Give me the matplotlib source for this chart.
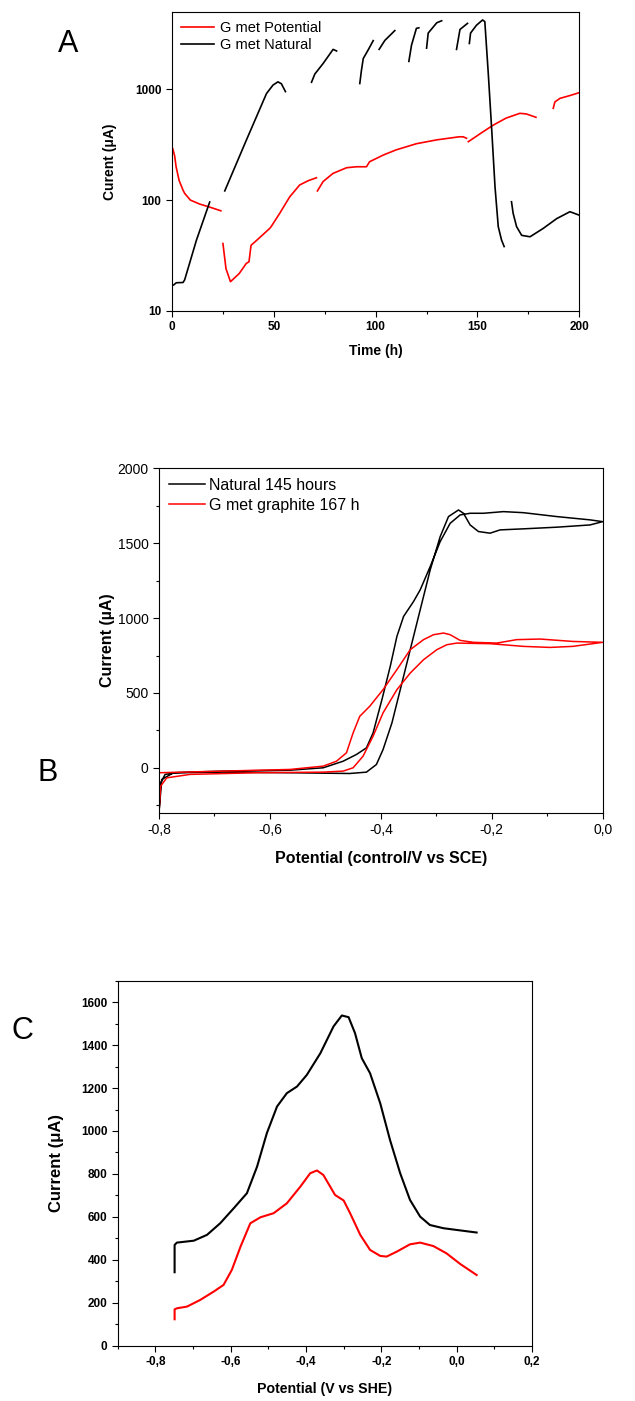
import numpy as np
import matplotlib
matplotlib.use("Agg")
import matplotlib.pyplot as plt
from matplotlib import font_manager
from matplotlib.ticker import FixedLocator, MultipleLocator, FuncFormatter, NullLocator

plt.rcParams['font.family'] = ['Liberation Sans', 'DejaVu Sans']

# narrow face for panel C, if there is one
try:
    font_manager.findfont("Liberation Sans Narrow", fallback_to_default=False)
    NARROW = ["Liberation Sans Narrow", "Liberation Sans", "DejaVu Sans"]
    narrow_scale = 1.0
except ValueError:
    NARROW = ["Liberation Sans", "DejaVu Sans"]
    narrow_scale = 0.85

# ===============================
# A: current vs time (log)
# ===============================
pot_t = [
    [0, 0, 0.4, 1.3, 2.0, 3.5, 5.4, 6.2, 9.0, 13.6, 18.0, 24.0],
    [25.0, 26.5, 28.7, 33.0, 36.5, 37.8, 38.8, 41.4, 48.0, 48.8, 52.9, 57.8, 62.7, 67.0, 70.9],
    [71.4, 74.2, 79.0, 85.7, 90.6, 95.5, 97.0, 103.7, 110.0, 120.0, 130.0, 141.0, 143.0, 144.6],
    [145.5, 152.8, 157.7, 164.0, 170.8, 174.0, 178.7],
    [187.2, 188.0, 190.5, 195.4, 200.0],
]
pot_i = [
    [10, 300, 290, 250, 200, 150, 123, 115, 100, 92, 87, 80],
    [40.5, 24, 18.3, 21.7, 26.8, 27.7, 39, 43, 55.5, 58, 76, 107, 137, 150, 159],
    [121, 147, 174, 196, 200, 200, 222, 255, 284, 323, 350, 373, 373, 362],
    [337, 415, 475, 550, 608, 600, 560],
    [675, 770, 830, 880, 935],
]
nat_t = [
    [0.8, 2.1, 5.4, 6.2, 12.0, 18.5],
    [25.9, 36.5, 46.4, 49.6, 52.0, 53.7, 55.7],
    [68.5, 70.1, 74.2, 79.1, 80.8],
    [92.2, 93.0, 93.9, 96.3, 98.8],
    [101.7, 104.5, 109.4],
    [116.3, 117.6, 120.0, 121.2],
    [125.0, 125.8, 130.0, 132.4],
    [139.7, 141.4, 145.1],
    [146.0, 146.6, 149.5, 152.5, 153.6, 155.3, 157.0, 158.6, 160.2, 161.8, 163.1],
    [166.7, 167.5, 169.2, 171.7, 175.8, 182.3, 188.9, 195.4, 200.0],
]
nat_i = [
    [17.1, 17.9, 18, 19, 43.5, 96],
    [121, 348, 918, 1095, 1170, 1125, 955],
    [1160, 1375, 1715, 2300, 2225],
    [1130, 1480, 1900, 2270, 2760],
    [2300, 2770, 3400],
    [1790, 2510, 3560, 3600],
    [2360, 3230, 4000, 4170],
    [2300, 3480, 3950],
    [2600, 3230, 3800, 4240, 4100, 1390, 428, 132, 57.5, 43.6, 38],
    [96.6, 76, 57.5, 48, 46.6, 55.5, 68, 78.5, 73],
]

# ===============================
# B: cyclic voltammetry loops
# ===============================
nat_cv_e = [-0.8, -0.797, -0.789, -0.768, -0.684, -0.564, -0.456, -0.426, -0.408, -0.396,
            -0.380, -0.365, -0.347, -0.329, -0.311, -0.293, -0.278, -0.260, -0.251, -0.239,
            -0.224, -0.203, -0.185, -0.143, -0.083, -0.023, 0.0,
            -0.023, -0.083, -0.143, -0.179, -0.215, -0.239, -0.257, -0.275, -0.293, -0.311,
            -0.329, -0.341, -0.359, -0.371, -0.383, -0.398, -0.414, -0.426, -0.444, -0.468,
            -0.504, -0.564, -0.684, -0.774, -0.795, -0.8]
nat_cv_i = [-296, -100, -44, -33, -29, -33, -38, -29, 22, 122,
            300, 522, 789, 1056, 1322, 1544, 1678, 1722, 1700, 1622,
            1578, 1567, 1589, 1596, 1607, 1622, 1644,
            1656, 1678, 1704, 1711, 1700, 1700, 1689, 1633, 1511, 1344,
            1189, 1111, 1011, 878, 678, 456, 233, 133, 89, 44,
            0, -16, -22, -33, -78, -296]
gra_cv_e = [-0.8, -0.797, -0.786, -0.744, -0.624, -0.504, -0.468, -0.450, -0.432, -0.414,
            -0.396, -0.371, -0.347, -0.323, -0.299, -0.281, -0.263, -0.203, -0.143, -0.095,
            -0.054, 0.0,
            -0.054, -0.113, -0.155, -0.191, -0.233, -0.257, -0.275, -0.287, -0.305, -0.323,
            -0.347, -0.371, -0.396, -0.420, -0.438, -0.450, -0.462, -0.480, -0.504, -0.564,
            -0.684, -0.8]
gra_cv_i = [-296, -122, -67, -44, -33, -29, -22, 0, 78, 211,
            367, 522, 633, 722, 789, 822, 833, 829, 811, 804,
            811, 838,
            844, 860, 856, 833, 838, 851, 889, 900, 889, 856,
            789, 656, 522, 411, 344, 233, 100, 44, 11, -11,
            -22, -33]

# ===============================
# C: differential curves
# ===============================
c_blk_e = [-0.749, -0.749, -0.743, -0.698, -0.663, -0.628, -0.592, -0.557, -0.530, -0.504,
           -0.477, -0.451, -0.424, -0.398, -0.362, -0.327, -0.305, -0.287, -0.270, -0.252,
           -0.230, -0.203, -0.177, -0.150, -0.124, -0.097, -0.071, -0.035, 0.0, 0.053]
c_blk_i = [342, 469, 480, 489, 516, 570, 640, 710, 834, 990,
           1114, 1176, 1207, 1261, 1362, 1487, 1538, 1530, 1456, 1339,
           1269, 1129, 958, 803, 679, 601, 562, 547, 539, 527]
c_red_e = [-0.749, -0.749, -0.743, -0.716, -0.681, -0.645, -0.619, -0.597, -0.574, -0.548,
           -0.521, -0.486, -0.451, -0.415, -0.389, -0.371, -0.354, -0.323, -0.300, -0.283,
           -0.256, -0.230, -0.203, -0.186, -0.159, -0.124, -0.097, -0.062, -0.027, 0.009, 0.053]
c_red_i = [123, 169, 174, 182, 213, 252, 283, 353, 461, 570,
           598, 617, 663, 741, 803, 816, 795, 702, 676, 617,
           516, 446, 418, 415, 438, 472, 480, 464, 430, 381, 329]


def comma(x, pos):
    return f"{x:.1f}".replace(".", ",")


fig = plt.figure(figsize=(6.35, 14.01), dpi=100)

# ---- A ----
axA = fig.add_axes([0.2709, 0.7782, 0.6414, 0.2132])
for k, (t, i) in enumerate(zip(pot_t, pot_i)):
    axA.plot(t, i, color="#ff0000", lw=1.2, label="G met Potential" if k == 0 else None)
for k, (t, i) in enumerate(zip(nat_t, nat_i)):
    axA.plot(t, i, color="black", lw=1.2, label="G met Natural" if k == 0 else None)
axA.set_yscale("log")
axA.set_xlim(0, 200)
axA.set_ylim(10, 5000)
axA.yaxis.set_major_locator(FixedLocator([10, 100, 1000]))
axA.yaxis.set_major_formatter(FuncFormatter(lambda v, p: f"{int(v)}"))
axA.yaxis.set_minor_locator(NullLocator())
axA.xaxis.set_major_locator(MultipleLocator(50))
axA.xaxis.set_minor_locator(MultipleLocator(25))
axA.tick_params(direction="out", labelsize=8.5, width=0.8, length=4)
axA.tick_params(which="minor", direction="out", length=2.5, width=0.8)
for lab in axA.get_xticklabels() + axA.get_yticklabels():
    lab.set_fontweight("bold")
axA.set_xlabel("Time (h)", fontsize=10, fontweight="bold", labelpad=8)
axA.set_ylabel("Curent (μA)", fontsize=10, fontweight="bold", labelpad=13)
axA.legend(loc="upper left", frameon=False, fontsize=10.5, handlelength=2.3,
           borderaxespad=0.2, labelspacing=0.25, handletextpad=0.4)
fig.text(0.108, 0.9686, "A", fontsize=22, ha="center", va="center")

# ---- B ----
axB = fig.add_axes([0.2504, 0.4199, 0.6987, 0.2458])
axB.plot(nat_cv_e, nat_cv_i, color="black", lw=1.1, label="Natural 145 hours")
axB.plot(gra_cv_e, gra_cv_i, color="#ff0000", lw=1.1, label="G met graphite 167 h")
axB.set_xlim(-0.8, 0.0)
axB.set_ylim(-300, 2000)
axB.xaxis.set_major_locator(MultipleLocator(0.2))
axB.xaxis.set_minor_locator(MultipleLocator(0.1))
axB.xaxis.set_major_formatter(FuncFormatter(comma))
axB.yaxis.set_major_locator(MultipleLocator(500))
axB.yaxis.set_minor_locator(MultipleLocator(250))
axB.tick_params(direction="out", labelsize=10, width=0.8, length=4)
axB.tick_params(which="minor", direction="out", length=2.5, width=0.8)
axB.set_xlabel("Potential (control/V vs SCE)", fontsize=11.5, fontweight="bold", labelpad=10)
axB.set_ylabel("Current (µA)", fontsize=11.5, fontweight="bold", labelpad=1.5)
axB.legend(loc="upper left", frameon=False, fontsize=11.5, handlelength=2.3,
           borderaxespad=0.2, labelspacing=0.3, handletextpad=0.25)
fig.text(0.0756, 0.4482, "B", fontsize=22, ha="center", va="center")

# ---- C ----
axC = fig.add_axes([0.1854, 0.0395, 0.6524, 0.2605])
axC.plot(c_blk_e, c_blk_i, color="black", lw=1.5)
axC.plot(c_red_e, c_red_i, color="#ff0000", lw=1.5)
axC.set_xlim(-0.9, 0.2)
axC.set_ylim(0, 1700)
axC.xaxis.set_major_locator(MultipleLocator(0.2))
axC.xaxis.set_minor_locator(MultipleLocator(0.1))
axC.xaxis.set_major_formatter(FuncFormatter(comma))
axC.yaxis.set_major_locator(MultipleLocator(200))
axC.yaxis.set_minor_locator(MultipleLocator(100))
axC.tick_params(direction="out", labelsize=10 * narrow_scale, width=0.8, length=4)
axC.tick_params(which="minor", direction="out", length=2.5, width=0.8)
for lab in axC.get_xticklabels() + axC.get_yticklabels():
    lab.set_fontweight("bold")
    lab.set_family(NARROW)
axC.set_xlabel("Potential (V vs SHE)", fontsize=12 * narrow_scale, fontweight="bold",
               labelpad=10, family=NARROW)
axC.set_ylabel("Current (μA)", fontsize=12, fontweight="bold", labelpad=12)
fig.text(0.036, 0.2641, "C", fontsize=22, ha="center", va="center")

fig.savefig("out.png", dpi=100)
